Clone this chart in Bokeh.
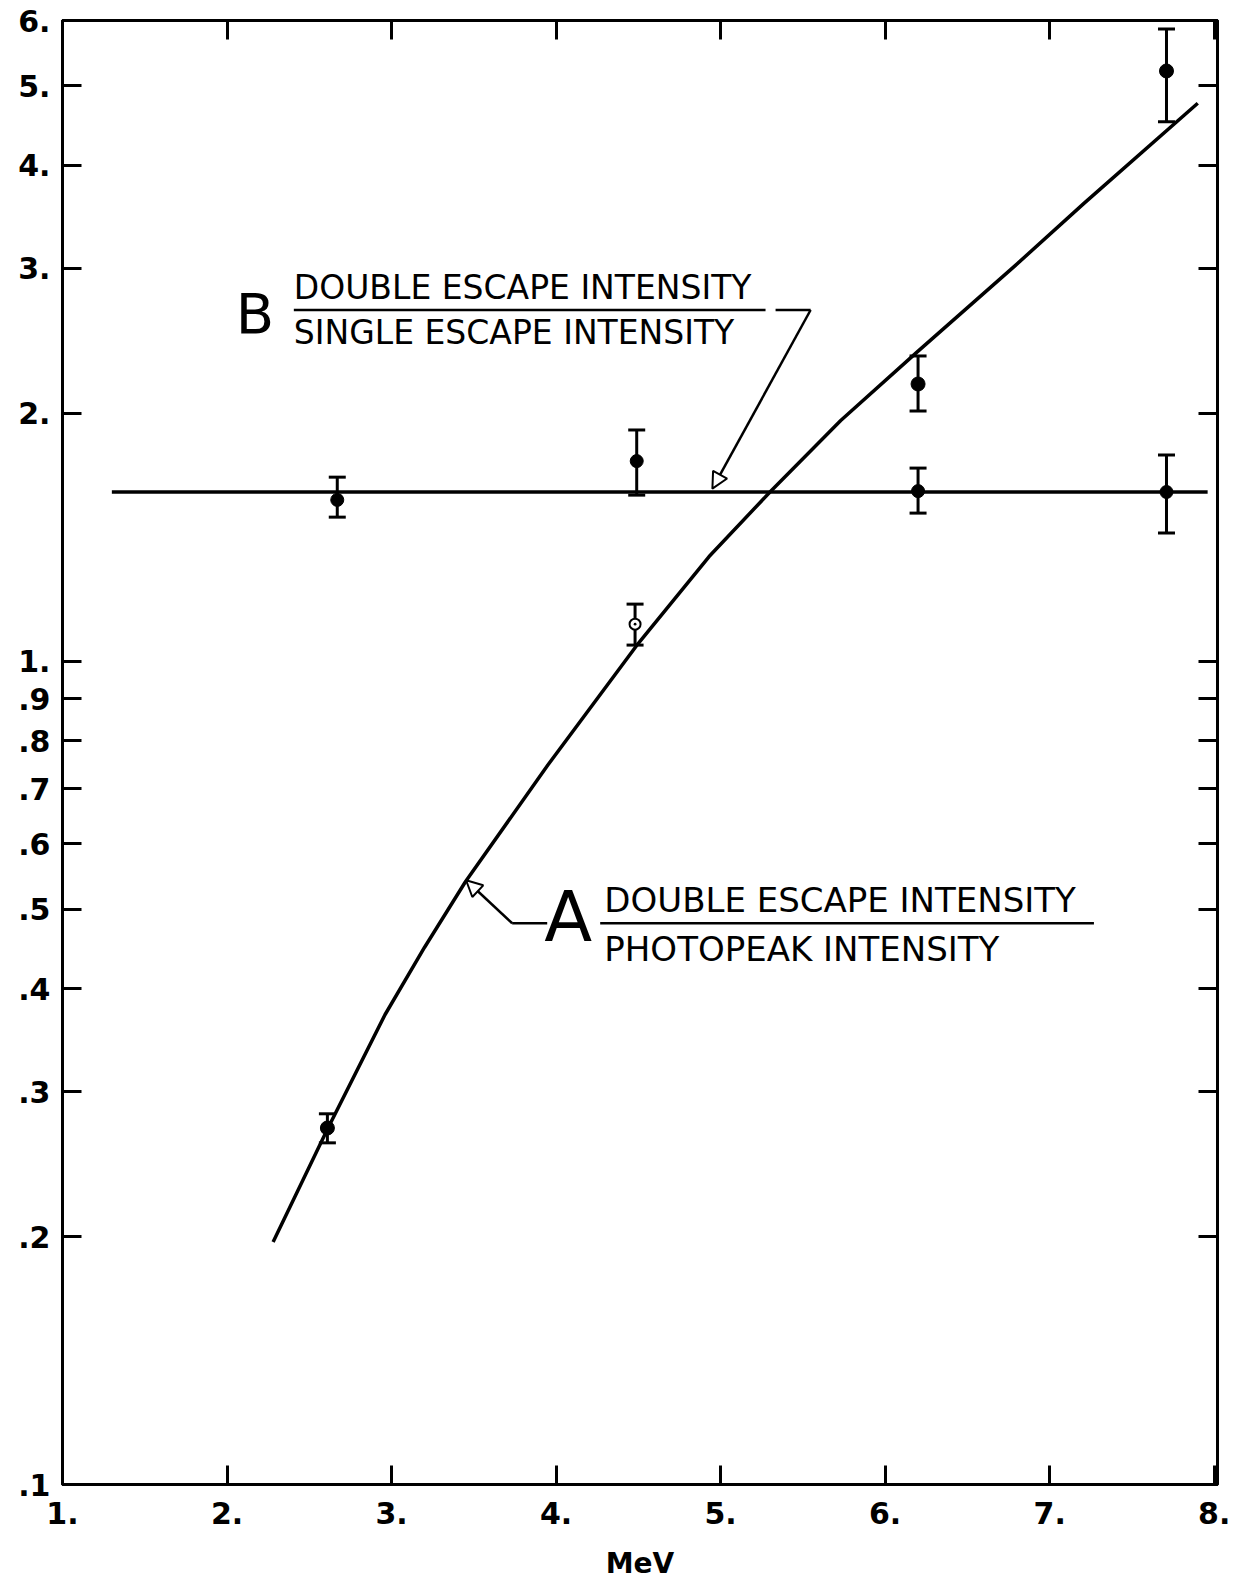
from bokeh.plotting import figure
from bokeh.models import (FixedTicker, LogAxis, LinearAxis, Whisker, TeeHead,
                          ColumnDataSource, Label, Arrow, NormalHead)
from bokeh.embed import file_html
from bokeh.resources import INLINE

# ---- data ----
x_ticks = [1, 2, 3, 4, 5, 6, 7, 8]
x_tick_labels = ["1.", "2.", "3.", "4.", "5.", "6.", "7.", "8."]
y_ticks = [0.1, 0.2, 0.3, 0.4, 0.5, 0.6, 0.7, 0.8, 0.9, 1.0, 2.0, 3.0, 4.0, 5.0, 6.0]
y_tick_labels = [".1", ".2", ".3", ".4", ".5", ".6", ".7", ".8", ".9",
                 "1.", "2.", "3.", "4.", "5.", "6."]

# curve A : double escape / photopeak
curve_a_x = [2.28, 2.61, 2.96, 3.20, 3.45, 3.95, 4.49, 4.93, 5.30, 5.73, 6.19, 6.78, 7.21, 7.90]
curve_a_y = [0.197, 0.270, 0.372, 0.449, 0.540, 0.748, 1.045, 1.340, 1.605, 1.960, 2.370, 3.01, 3.60, 4.76]
energy_a = [2.61, 4.48, 6.20, 7.71]
ratio_a = [0.271, 1.109, 2.171, 5.21]
ratio_a_hi = [0.282, 1.173, 2.348, 5.86]
ratio_a_lo = [0.260, 1.046, 2.013, 4.52]
open_a = [1]  # index of the hollow point

# line B : double escape / single escape
line_b_x = [1.30, 7.96]
line_b_y = [1.605, 1.605]
energy_b = [2.67, 4.49, 6.20, 7.71]
ratio_b = [1.570, 1.750, 1.609, 1.605]
ratio_b_hi = [1.673, 1.909, 1.716, 1.780]
ratio_b_lo = [1.496, 1.591, 1.513, 1.431]

FONT = "DejaVu Sans"

p = figure(width=1250, height=1586, y_axis_type="log",
           x_range=(1, 8.02), y_range=(0.1, 6.0),
           output_backend="svg", toolbar_location=None,
           min_border_left=62, min_border_right=33,
           min_border_top=20, min_border_bottom=102)
p.grid.visible = False
p.outline_line_color = "black"
p.outline_line_width = 3
p.background_fill_color = "white"
p.border_fill_color = "white"


def style_axis(ax, show_labels=True):
    ax.major_tick_in = 19
    ax.major_tick_out = 0
    ax.minor_tick_line_color = None
    ax.axis_line_width = 3
    ax.major_tick_line_width = 3
    ax.major_label_text_font = FONT
    ax.major_label_text_font_style = "bold"
    ax.major_label_text_font_size = "30px"
    ax.major_label_text_color = "black" if show_labels else None


xa = p.xaxis[0]
xa.ticker = FixedTicker(ticks=x_ticks)
xa.major_label_overrides = {t: l for t, l in zip(x_ticks, x_tick_labels)}
xa.major_label_standoff = 17
style_axis(xa)
xa.axis_label = "MeV"
xa.axis_label_text_font = FONT
xa.axis_label_text_font_style = "bold"
xa.axis_label_text_font_size = "28px"
xa.axis_label_text_color = "black"
xa.axis_label_standoff = 20

ya = p.yaxis[0]
ya.ticker = FixedTicker(ticks=y_ticks)
ya.major_label_overrides = {t: l for t, l in zip(y_ticks, y_tick_labels)}
ya.major_label_standoff = 12
style_axis(ya)

ry = LogAxis(ticker=FixedTicker(ticks=y_ticks))
style_axis(ry, False)
p.add_layout(ry, "right")
tx = LinearAxis(ticker=FixedTicker(ticks=x_ticks))
style_axis(tx, False)
p.add_layout(tx, "above")

# ---- curves ----
p.line(curve_a_x, curve_a_y, line_color="black", line_width=3.5, line_join="round")
p.line(line_b_x, line_b_y, line_color="black", line_width=3.5)

# ---- error bars ----
for ex, lo, hi in ((energy_a, ratio_a_lo, ratio_a_hi), (energy_b, ratio_b_lo, ratio_b_hi)):
    src = ColumnDataSource(dict(x=ex, lo=lo, hi=hi))
    p.add_layout(Whisker(source=src, base="x", lower="lo", upper="hi",
                         dimension="height", line_width=3, line_color="black",
                         upper_head=TeeHead(size=17, line_width=3, line_color="black"),
                         lower_head=TeeHead(size=17, line_width=3, line_color="black")))

# ---- points ----
filled_a = [i for i in range(len(energy_a)) if i not in open_a]
p.scatter([energy_a[i] for i in filled_a], [ratio_a[i] for i in filled_a],
          size=14, marker="circle", fill_color="black", line_color="black")
p.scatter([energy_a[i] for i in open_a], [ratio_a[i] for i in open_a],
          size=11, marker="circle_dot", fill_color="white", line_color="black", line_width=2)
p.scatter(energy_b, ratio_b, size=13, marker="circle", fill_color="black", line_color="black")

# ---- annotations ----
def lab(x, y, text, size, align="left", style="normal"):
    p.add_layout(Label(x=x, y=y, text=text, text_font=FONT, text_font_size=size,
                       text_align=align, text_baseline="middle", text_font_style=style,
                       text_color="black"))

# B
lab(2.17, 2.647, "B", "56px", "center")
lab(2.406, 2.84, "DOUBLE ESCAPE INTENSITY", "33px")
lab(2.406, 2.51, "SINGLE ESCAPE INTENSITY", "33px")
p.line([2.406, 5.273], [2.670, 2.670], line_color="black", line_width=2.5)
p.line([5.334, 5.547], [2.670, 2.670], line_color="black", line_width=2.5)
p.add_layout(Arrow(x_start=5.547, y_start=2.670, x_end=4.950, y_end=1.62,
                   line_width=2.5, line_color="black",
                   end=NormalHead(size=16, fill_color="white", line_color="black", line_width=2)))

# A
lab(4.074, 0.4886, "A", "70px", "center")
lab(4.293, 0.5124, "DOUBLE ESCAPE INTENSITY", "34px")
lab(4.293, 0.4467, "PHOTOPEAK INTENSITY", "34px")
p.line([4.268, 7.269], [0.4805, 0.4805], line_color="black", line_width=2.5)
p.line([3.733, 3.946], [0.4805, 0.4805], line_color="black", line_width=2.5)
p.add_layout(Arrow(x_start=3.733, y_start=0.4805, x_end=3.453, y_end=0.5419,
                   line_width=2.5, line_color="black",
                   end=NormalHead(size=16, fill_color="white", line_color="black", line_width=2)))

open("out.html", "w").write(file_html(p, INLINE))
